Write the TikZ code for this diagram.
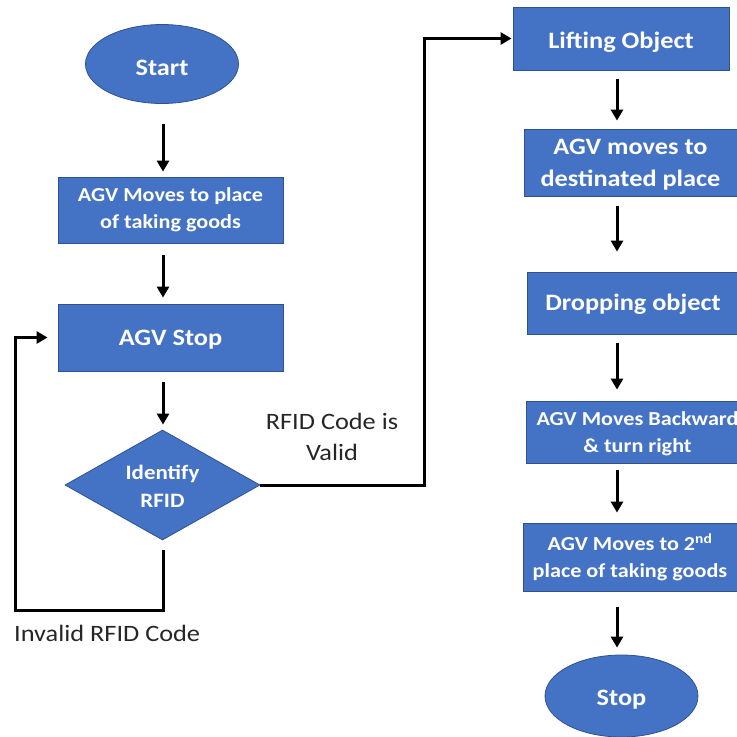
\documentclass[tikz,border=0pt]{standalone}
\usepackage{fontspec}
\setmainfont{Carlito}[FakeStretch=1.12]
\usetikzlibrary{shapes.geometric,arrows.meta}
\definecolor{boxblue}{HTML}{4472C4}
\definecolor{edgeblue}{HTML}{2F528F}
\definecolor{labelgray}{HTML}{262626}
\tikzset{
  blk/.style={fill=boxblue, draw=edgeblue, line width=0.8pt, inner sep=0pt},
  boxnode/.style={blk, rectangle},
  ovalnode/.style={blk, ellipse},
  decnode/.style={blk, diamond, shape aspect=1.8},
  wtxt/.style={text=white, align=center, inner sep=0pt},
  bigtxt/.style={wtxt, font=\bfseries\fontsize{23.5}{32}\selectfont},
  smalltxt/.style={wtxt, font=\bfseries\fontsize{19.8}{27}\selectfont},
  lbl/.style={text=labelgray, align=center, font=\fontsize{23.5}{31}\selectfont, inner sep=0pt},
  arr/.style={line width=3pt, -{Triangle[length=11pt,width=12pt]}},
}
\begin{document}
\begin{tikzpicture}[x=1pt,y=-1pt]
\useasboundingbox (0,0) rectangle (737,737);
\clip (0,0) rectangle (737,737);

% left column shapes
\node[ovalnode, minimum width=153pt, minimum height=79pt] (start) at (162,64) {};
\node[boxnode, minimum width=225pt, minimum height=66pt] (box1) at (170.5,210) {};
\node[boxnode, minimum width=225pt, minimum height=67pt] (agvstop) at (170.5,337.5) {};
\node[decnode, minimum width=195pt, minimum height=110pt] (ident) at (162.5,485) {};

% right column shapes
\node[boxnode, minimum width=216pt, minimum height=63pt] (lift) at (621,38.5) {};
\node[boxnode, minimum width=213pt, minimum height=67pt] (dest) at (630.5,162.5) {};
\node[boxnode, minimum width=212pt, minimum height=62pt] (drop) at (633,303) {};
\node[boxnode, minimum width=223pt, minimum height=62pt] (back) at (637.5,432) {};
\node[boxnode, minimum width=214pt, minimum height=68pt] (second) at (630,557) {};
\node[ovalnode, minimum width=153pt, minimum height=82pt] (stop) at (621.5,696) {};

% texts inside shapes
\node[bigtxt] (startT) at ([yshift=-4pt]start.center) {Start};
\node[smalltxt] (box1T) at ([yshift=0pt]box1.center) {AGV Moves to place\\of taking goods};
\node[bigtxt] (agvstopT) at ([yshift=-2.5pt]agvstop.center) {AGV Stop};
\node[wtxt, font=\bfseries\fontsize{20.5}{28}\selectfont] (identT) at ([yshift=-1pt]ident.center) {Identify\\RFID};
\node[bigtxt] (liftT) at ([yshift=-3.5pt]lift.center) {Lifting Object};
\node[bigtxt] (destT) at ([yshift=-2.5pt]dest.center) {AGV moves to\\destinated place};
\node[bigtxt] (dropT) at ([yshift=-1pt]drop.center) {Dropping object};
\node[smalltxt] (backT) at ([yshift=-2pt]back.center) {AGV Moves Backward\\\& turn right};
\node[smalltxt] (secondT) at ([yshift=-0.5pt]second.center) {AGV Moves to 2\textsuperscript{nd}\\place of taking goods};
\node[bigtxt] (stopT) at ([yshift=-4pt]stop.center) {Stop};

% labels
\node[lbl] (validlbl) at (332,437) {RFID Code is\\Valid};
\node[lbl, anchor=west] (invalidlbl) at (14,633) {Invalid RFID Code};

% helper coordinates
\coordinate (colL) at (163,0);
\coordinate (colR) at (617,0);
\coordinate (loopbot) at (0,610);
\coordinate (loopleft) at (15,0);
\coordinate (validx) at (424,0);

% left arrows
\draw[arr, shorten <=20pt, shorten >=5pt] (colL |- start.south) -- (colL |- box1.north);
\draw[arr, shorten <=12pt, shorten >=6pt] (colL |- box1.south) -- (colL |- agvstop.north);
\draw[arr, shorten <=11pt, shorten >=5pt] (colL |- agvstop.south) -- (colL |- ident.north);

% invalid loop
\draw[arr, line join=miter, shorten >=10pt] ([yshift=-10pt]colL |- ident.south) -- (colL |- loopbot) -- (loopleft |- loopbot) -- (loopleft |- agvstop.west) -- (agvstop.west);

% valid path
\draw[arr, line join=miter, shorten >=1pt] (ident.east) -- (validx |- ident.east) -- (validx |- lift.west) -- (lift.west);

% right arrows
\draw[arr, shorten <=9pt, shorten >=8pt] (colR |- lift.south) -- (colR |- dest.north);
\draw[arr, shorten <=10pt, shorten >=20pt] (colR |- dest.south) -- (colR |- drop.north);
\draw[arr, shorten <=9pt, shorten >=11pt] (colR |- drop.south) -- (colR |- back.north);
\draw[arr, shorten <=7pt, shorten >=10pt] (colR |- back.south) -- (colR |- second.north);
\draw[arr, shorten <=16pt, shorten >=7pt] (colR |- second.south) -- (colR |- stop.north);
\end{tikzpicture}
\end{document}
